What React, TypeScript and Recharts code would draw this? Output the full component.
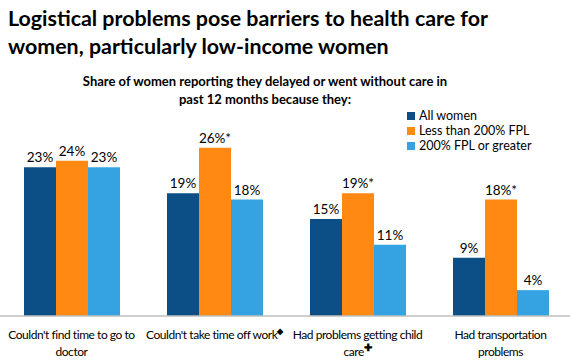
import { BarChart, Bar, XAxis, YAxis, LabelList } from 'recharts'

const categories = [
  "Couldn't find time to go to doctor",
  "Couldn't take time off work",
  'Had problems getting child care',
  'Had transportation problems',
]
const tickLines = [
  ["Couldn't find time to go to", 'doctor'],
  ["Couldn't take time off work"],
  ['Had problems getting child', 'care'],
  ['Had transportation', 'problems'],
]
const tickMarks = ['', '◆', '✚', '']
const allWomen = [23, 19, 15, 9]
const lowIncome = [24, 26, 19, 18]
const highIncome = [23, 18, 11, 4]
const lowIncomeSig = [false, true, true, true]

const seriesNames = ['All women', 'Less than 200% FPL', '200% FPL or greater']
const colors = ['#0B4F86', '#FF8912', '#35A3E2']

const data = categories.map((name, i) => ({
  name,
  all: allWomen[i],
  low: lowIncome[i],
  high: highIncome[i],
}))

const font = 'Lato, "Open Sans", sans-serif'

function Tick(props: any) {
  const { x, y, payload } = props
  const i = categories.indexOf(payload.value)
  const lines = tickLines[i]
  const mark = tickMarks[i]
  return (
    <g>
      {lines.map((l, k) => (
        <text key={k} x={x} y={y + 15 + k * 17} textAnchor="middle" fontSize={12} letterSpacing={-0.45} fill="#000" fontFamily={font}>
          {l}
          {mark && k === lines.length - 1 ? (
            <tspan dy={-5} fontSize={mark === '◆' ? 8 : 10} fontWeight="bold">{mark}</tspan>
          ) : null}
        </text>
      ))}
    </g>
  )
}

export default function App() {
  return (
    <div style={{ position: 'absolute', left: 0, top: 0, width: 570, height: 363, background: '#fff', fontFamily: font }}>
      <div style={{ position: 'absolute', left: 8, top: 4, fontSize: 21.4, fontWeight: 'bold', lineHeight: '28px', color: '#000', width: 562 }}>
        Logistical problems pose barriers to health care for
        <br />
        women, particularly low-income women
      </div>
      <div style={{ position: 'absolute', left: 0, width: 530, top: 72, textAlign: 'center', fontSize: 13, fontWeight: 'bold', lineHeight: '18px', color: '#000' }}>
        Share of women reporting they delayed or went without care in
        <br />
        past 12 months because they:
      </div>
      <div style={{ position: 'absolute', left: 407, top: 108, fontSize: 12.5, color: '#000' }}>
        {seriesNames.map((n, i) => (
          <div key={n} style={{ display: 'flex', alignItems: 'center', height: 15 }}>
            <span style={{ width: 8, height: 8, background: colors[i], marginRight: 4, display: 'inline-block' }} />
            {n}
          </div>
        ))}
      </div>
      <BarChart
        width={570}
        height={363}
        data={data}
        margin={{ top: 122, right: -2, bottom: 0, left: 0 }}
        barCategoryGap={24}
        barGap={0}
        style={{ position: 'absolute', left: 0, top: 0 }}
      >
        <XAxis dataKey="name" axisLine={{ stroke: '#BFBFBF', strokeWidth: 1.5 }} tickLine={false} tick={<Tick />} interval={0} height={47} />
        <YAxis hide domain={[0, 30]} />
        <Bar dataKey="all" name={seriesNames[0]} fill={colors[0]} isAnimationActive={false}>
          <LabelList dataKey="all" position="top" formatter={(v: any) => `${v}%`} fontSize={13.5} fill="#000" fontFamily={font} />
        </Bar>
        <Bar dataKey="low" name={seriesNames[1]} fill={colors[1]} isAnimationActive={false}>
          <LabelList
            dataKey="name"
            position="top"
            formatter={(n: any) => {
              const i = categories.indexOf(n)
              return `${lowIncome[i]}%${lowIncomeSig[i] ? '*' : ''}`
            }}
            fontSize={13.5}
            fill="#000"
            fontFamily={font}
          />
        </Bar>
        <Bar dataKey="high" name={seriesNames[2]} fill={colors[2]} isAnimationActive={false}>
          <LabelList dataKey="high" position="top" formatter={(v: any) => `${v}%`} fontSize={13.5} fill="#000" fontFamily={font} />
        </Bar>
      </BarChart>
    </div>
  )
}
